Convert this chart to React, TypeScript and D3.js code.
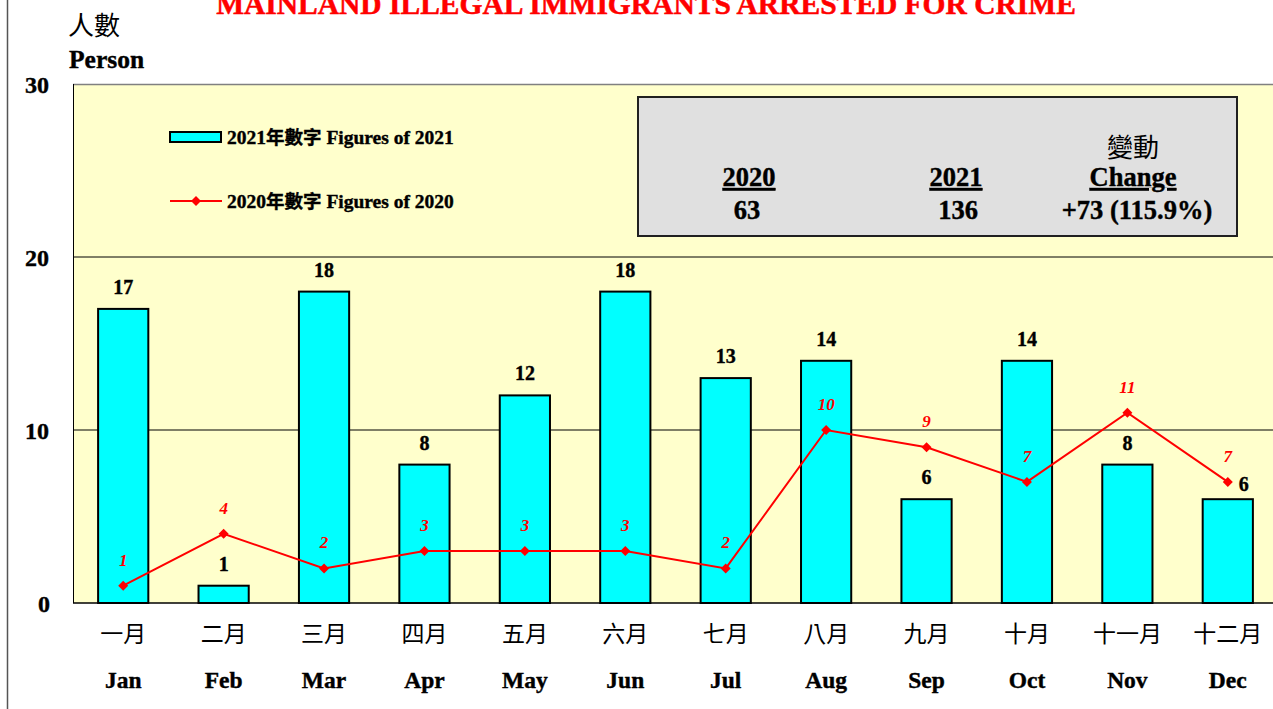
import React from "react";
import * as d3 from "d3";

const monthsZh = ["一月", "二月", "三月", "四月", "五月", "六月", "七月", "八月", "九月", "十月", "十一月", "十二月"];
const monthsEn = ["Jan", "Feb", "Mar", "Apr", "May", "Jun", "Jul", "Aug", "Sep", "Oct", "Nov", "Dec"];
const values2021 = [17, 1, 18, 8, 12, 18, 13, 14, 6, 14, 8, 6];
const values2020 = [1, 4, 2, 3, 3, 3, 2, 10, 9, 7, 11, 7];
const yTicks = [0, 10, 20, 30];

const serif = "'Liberation Serif', 'Times New Roman', serif";
const cjk = "'Noto Sans CJK TC', 'Noto Sans CJK SC', sans-serif";

export default function App() {
  const W = 1273, H = 709;
  const left = 73, right = 1278, top = 84, bottom = 603;
  const x = d3.scaleBand<string>().domain(monthsEn).range([left, right]).paddingInner(0.5).paddingOuter(0.25);
  const y = d3.scaleLinear().domain([0, 30]).range([bottom, top]);
  const cx = (i: number) => (x(monthsEn[i]) as number) + x.bandwidth() / 2;
  const line = d3.line<number>().x((_, i) => cx(i)).y((d) => y(d));
  const diamond = (px: number, py: number, r = 5) => `M${px},${py - r}L${px + r},${py}L${px},${py + r}L${px - r},${py}Z`;
  const heavy = { stroke: "#000", strokeWidth: 0.4 };

  return (
    <svg width={W} height={H} style={{ position: "absolute", left: 0, top: 0, background: "#fff" }}>
      <line x1={7.5} x2={7.5} y1={0} y2={H} stroke="#555" strokeWidth={1.5} />
      <text x={646} y={14} textAnchor="middle" fill="#ff0000" stroke="#ff0000" strokeWidth={0.5} fontFamily={serif} fontWeight="bold" fontSize={29.5}>
        MAINLAND ILLEGAL IMMIGRANTS ARRESTED FOR CRIME
      </text>
      <text x={68} y={35} fontFamily={cjk} fontSize={26} fill="#000">人數</text>
      <text x={69} y={68} fontFamily={serif} fontWeight="bold" fontSize={25.5} fill="#000" {...heavy}>Person</text>

      <rect x={left} y={top} width={right - left} height={bottom - top} fill="#ffffcc" />
      <line x1={left} x2={right} y1={top + 0.5} y2={top + 0.5} stroke="#808080" strokeWidth={1.5} />
      <line x1={left + 0.5} x2={left + 0.5} y1={top} y2={bottom} stroke="#000" strokeWidth={1} />
      {yTicks.slice(1, 3).map((t) => (
        <line key={t} x1={left} x2={right} y1={y(t)} y2={y(t)} stroke="#000" strokeWidth={1} />
      ))}
      {yTicks.map((t) => (
        <text key={t} x={t === 0 ? 44 : 37} y={y(t) + 9} textAnchor="middle" fontFamily={serif} fontWeight="bold" fontSize={24} fill="#000" {...heavy}>{t}</text>
      ))}

      {values2021.map((v, i) => (
        <g key={i}>
          <rect x={x(monthsEn[i])} y={y(v)} width={x.bandwidth()} height={y(0) - y(v)} fill="#00ffff" stroke="#000" strokeWidth={2} />
          <text x={cx(i) + (i === 11 ? 16 : 0)} y={y(v) - (i === 11 ? 8 : 15)} textAnchor="middle" fontFamily={serif} fontWeight="bold" fontSize={20} fill="#000" {...heavy}>{v}</text>
        </g>
      ))}
      <line x1={left} x2={right} y1={bottom} y2={bottom} stroke="#000" strokeWidth={1.5} />

      <path d={line(values2020) || ""} fill="none" stroke="#ff0000" strokeWidth={2} />
      {values2020.map((v, i) => (
        <g key={i}>
          <path d={diamond(cx(i), y(v))} fill="#ff0000" />
          <text x={cx(i)} y={y(v) - 20} textAnchor="middle" fontFamily={serif} fontWeight="bold" fontStyle="italic" fontSize={17} fill="#ff0000">{v}</text>
        </g>
      ))}

      {monthsZh.map((m, i) => (
        <text key={m} x={cx(i)} y={642} textAnchor="middle" fontFamily={cjk} fontSize={23} fill="#000">{m}</text>
      ))}
      {monthsEn.map((m, i) => (
        <text key={m} x={cx(i)} y={688} textAnchor="middle" fontFamily={serif} fontWeight="bold" fontSize={23.5} fill="#000" {...heavy}>{m}</text>
      ))}

      <rect x={170} y={132} width={51} height={10} fill="#00ffff" stroke="#000" strokeWidth={2} />
      <text x={227} y={144} fontFamily={serif} fontWeight="bold" fontSize={19.5} fill="#000" {...heavy}>
        2021<tspan fontFamily={cjk} fontSize={18.5}>年數字</tspan> Figures of 2021
      </text>
      <line x1={170} x2={222} y1={201} y2={201} stroke="#ff0000" strokeWidth={2} />
      <path d={diamond(196, 201, 5)} fill="#ff0000" />
      <text x={227} y={208} fontFamily={serif} fontWeight="bold" fontSize={19.5} fill="#000" {...heavy}>
        2020<tspan fontFamily={cjk} fontSize={18.5}>年數字</tspan> Figures of 2020
      </text>

      <rect x={638} y={97} width={599} height={139} fill="#e0e0e0" stroke="#202020" strokeWidth={2} />
      <g fontFamily={serif} fontWeight="bold" fontSize={26.5} fill="#000" textAnchor="middle" stroke="#000" strokeWidth={0.4}>
        <text x={749} y={186} textDecoration="underline">2020</text>
        <text x={747} y={219}>63</text>
        <text x={956} y={186} textDecoration="underline">2021</text>
        <text x={958} y={219}>136</text>
        <text x={1133} y={186} textDecoration="underline">Change</text>
        <text x={1137} y={219}>+73 (115.9%)</text>
      </g>
      <text x={1133} y={157} textAnchor="middle" fontFamily={cjk} fontSize={26} fill="#000">變動</text>
    </svg>
  );
}
